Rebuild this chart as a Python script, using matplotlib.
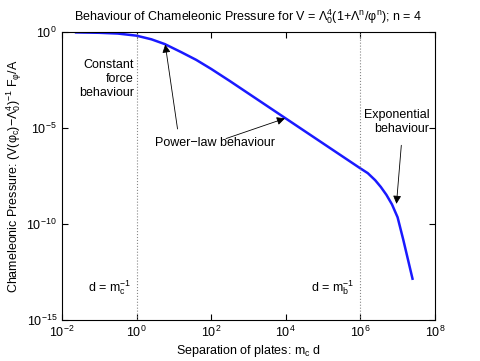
import matplotlib
matplotlib.use("Agg")
import matplotlib.pyplot as plt
import numpy as np

plt.rcParams['font.family'] = ['Liberation Sans', 'DejaVu Sans']
plt.rcParams['mathtext.fontset'] = 'custom'
plt.rcParams['mathtext.rm'] = 'Liberation Sans'
plt.rcParams['mathtext.it'] = 'Liberation Sans'
plt.rcParams['mathtext.bf'] = 'Liberation Sans:bold'

# curve, as log10 of the values
log_sep = [-1.62, -1.0, -0.5, 0.0, 0.4, 0.76, 1.2, 1.6, 2.0, 2.5, 3.0, 3.5,
           4.0, 4.5, 5.0, 5.5, 6.0, 6.2, 6.4, 6.55, 6.7, 6.85, 7.0, 7.15, 7.4]
log_pres = [-0.02, -0.04, -0.08, -0.19, -0.38, -0.63, -1.05, -1.45, -1.92,
            -2.55, -3.2, -3.85, -4.5, -5.15, -5.8, -6.45, -7.1, -7.35, -7.72,
            -8.07, -8.48, -8.98, -9.65, -10.8, -12.85]
sep = 10.0 ** np.array(log_sep)
pres = 10.0 ** np.array(log_pres)

mark_lines = [1e0, 1e6]
xticks = [1e-2, 1e0, 1e2, 1e4, 1e6, 1e8]
yticks = [1e-15, 1e-10, 1e-5, 1e0]

fig = plt.figure(figsize=(4.8, 3.61), dpi=100)
ax = fig.add_axes([0.129, 0.1136, 0.777, 0.7977])
ax.loglog(sep, pres, color='#1a1aff', lw=1.8)
for v in mark_lines:
    ax.axvline(v, color='#888888', ls=':', lw=0.8)

ax.set_xlim(1e-2, 1e8)
ax.set_ylim(1e-15, 1e0)
ax.set_xticks(xticks)
ax.set_yticks(yticks)
ax.minorticks_off()
ax.tick_params(direction='in', top=True, right=True, labelsize=9, length=4)

fs = 9
ax.text(0.85, 10**-1.4, 'Constant\nforce\nbehaviour', ha='right', va='top',
        fontsize=fs, linespacing=1.25)
ax.text(10**2.1, 10**-5.8, 'Power\u2212law behaviour', ha='center', va='center',
        fontsize=fs)
ax.text(10**7.85, 10**-4.0, 'Exponential\nbehaviour', ha='right', va='top',
        fontsize=fs, linespacing=1.25)
ax.annotate('', xy=(10**0.77, 10**-0.65), xytext=(10**1.1, 10**-5.05),
            arrowprops=dict(arrowstyle='-|>', color='black', lw=0.6,
                            mutation_scale=12, shrinkA=0, shrinkB=0))
ax.annotate('', xy=(10**3.98, 10**-4.5), xytext=(10**2.4, 10**-5.55),
            arrowprops=dict(arrowstyle='-|>', color='black', lw=0.6,
                            mutation_scale=12, shrinkA=0, shrinkB=0))
ax.annotate('', xy=(10**6.97, 10**-8.95), xytext=(10**7.1, 10**-5.9),
            arrowprops=dict(arrowstyle='-|>', color='black', lw=0.6,
                            mutation_scale=12, shrinkA=0, shrinkB=0))

ax.text(10**-0.15, 10**-13.3, r'd = m$_\mathrm{c}^{-1}$', ha='right', va='center',
        fontsize=fs)
ax.text(10**5.85, 10**-13.3, r'd = m$_\mathrm{b}^{-1}$', ha='right', va='center',
        fontsize=fs)

ax.set_title(r'Behaviour of Chameleonic Pressure for V = $\Lambda_0^4$(1+$\Lambda^n$/$\varphi^n$); n = 4',
             fontsize=9, pad=8)
ax.set_xlabel(r'Separation of plates: m$_\mathrm{c}$ d', fontsize=fs, labelpad=2)
ax.set_ylabel(r'Chameleonic Pressure: (V($\varphi_\mathrm{c}$)$-\Lambda_0^4$)$^{-1}$ F$_\varphi$/A',
              fontsize=fs, labelpad=2)

fig.savefig('out.png', dpi=100)
